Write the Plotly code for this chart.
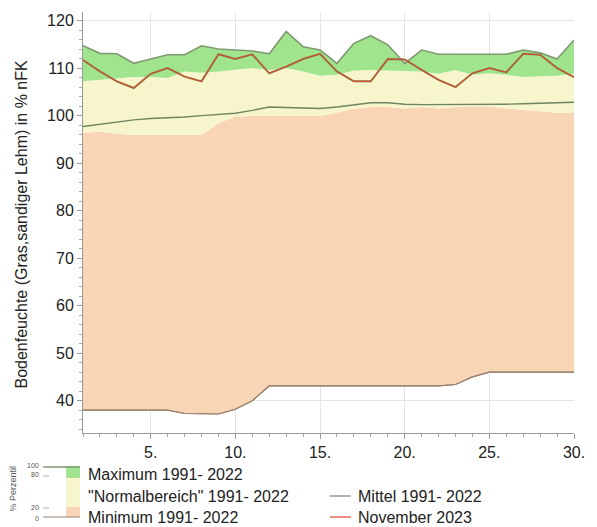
import plotly.graph_objects as go

days = list(range(1, 31))
maximum = [114.7, 113.1, 113.0, 111.0, 111.9, 112.8, 112.8, 114.7, 114.0, 113.8,
           113.6, 113.0, 117.7, 114.5, 113.8, 111.0, 115.2, 116.8, 114.9, 111.0,
           113.8, 112.9, 112.9, 112.9, 112.9, 112.9, 113.8, 113.2, 111.9, 115.9]
p80 = [107.2, 107.5, 107.9, 108.1, 108.1, 107.9, 109.3, 109.0, 109.3, 109.6,
       110.0, 109.6, 110.0, 109.3, 108.4, 108.6, 109.5, 109.6, 109.5, 109.3,
       109.3, 108.8, 109.6, 108.6, 108.9, 108.6, 108.1, 108.3, 108.4, 108.8]
p20 = [96.4, 96.6, 96.2, 95.9, 95.9, 95.9, 95.9, 95.9, 98.4, 99.8,
       99.9, 99.9, 99.9, 99.9, 99.9, 100.6, 101.5, 101.8, 101.8, 101.5,
       101.8, 101.5, 101.8, 101.9, 101.9, 101.5, 101.2, 100.8, 100.6, 100.6]
minimum = [38.0, 38.0, 38.0, 38.0, 38.0, 38.0, 37.3, 37.2, 37.2, 38.2,
           40.0, 43.1, 43.1, 43.1, 43.1, 43.1, 43.1, 43.1, 43.1, 43.1,
           43.1, 43.1, 43.4, 45.0, 46.0, 46.0, 46.0, 46.0, 46.0, 46.0]
mittel = [97.7, 98.2, 98.7, 99.1, 99.4, 99.5, 99.7, 100.0, 100.2, 100.5,
          101.1, 101.8, 101.7, 101.6, 101.5, 101.8, 102.3, 102.7, 102.7, 102.4,
          102.3, 102.3, 102.4, 102.4, 102.4, 102.4, 102.5, 102.6, 102.6, 102.8]
nov2023 = [111.7, 109.3, 107.2, 105.8, 108.8, 110.0, 108.2, 107.2, 112.9, 111.9,
           112.9, 108.9, 110.3, 111.9, 113.0, 109.3, 107.2, 107.2, 111.9, 111.8,
           109.6, 107.5, 106.0, 108.9, 110.0, 109.1, 113.0, 112.8, 110.0, 108.1]

x_tickvals = [5, 10, 15, 20, 25, 30]
x_ticktext = ["5.", "10.", "15.", "20.", "25.", "30."]
y_tickvals = [40, 50, 60, 70, 80, 90, 100, 110, 120]

GREEN = "#a0e58e"
YELLOW = "#f7f5cb"
PEACH = "#f8d6b5"
MAXLINE = "#7f9a70"
MINLINE = "#9c8470"
MITTEL = "#6f8560"
RED = "#e0402c"
FONT = "Liberation Sans, Arial, sans-serif"

fig = go.Figure()
fig.add_trace(go.Scatter(x=days, y=minimum, mode="lines", line=dict(color=MINLINE, width=1.2)))
fig.add_trace(go.Scatter(x=days, y=p20, mode="lines", line=dict(width=0), fill="tonexty", fillcolor=PEACH))
fig.add_trace(go.Scatter(x=days, y=p80, mode="lines", line=dict(width=0), fill="tonexty", fillcolor=YELLOW))
fig.add_trace(go.Scatter(x=days, y=maximum, mode="lines", line=dict(color=MAXLINE, width=1.6), fill="tonexty", fillcolor=GREEN))
fig.add_trace(go.Scatter(x=days, y=minimum, mode="lines", line=dict(color=MINLINE, width=1.2)))
fig.add_trace(go.Scatter(x=days, y=mittel, mode="lines", line=dict(color=MITTEL, width=1.4)))
fig.add_trace(go.Scatter(x=days, y=nov2023, mode="lines", line=dict(color="#8f7d48", width=2.0)))
fig.add_trace(go.Scatter(x=days, y=nov2023, mode="lines", line=dict(color=RED, width=0.9)))

L, R, T, B = 83, 578, 12, 433
W, H = R - L, B - T


def px(x):
    return (x - L) / W


def py(y):
    return (B - y) / H


shapes = []
annotations = []
# percentile colour bar
shapes.append(dict(type="rect", xref="paper", yref="paper", x0=px(66), x1=px(80), y0=py(478), y1=py(466),
                   fillcolor=GREEN, line=dict(width=0)))
shapes.append(dict(type="rect", xref="paper", yref="paper", x0=px(66), x1=px(80), y0=py(507), y1=py(478),
                   fillcolor=YELLOW, line=dict(width=0)))
shapes.append(dict(type="rect", xref="paper", yref="paper", x0=px(66), x1=px(80), y0=py(517), y1=py(507),
                   fillcolor=PEACH, line=dict(width=0)))
shapes.append(dict(type="line", xref="paper", yref="paper", x0=px(43), x1=px(80), y0=py(467), y1=py(467),
                   line=dict(color=MAXLINE, width=1.5)))
shapes.append(dict(type="line", xref="paper", yref="paper", x0=px(43), x1=px(80), y0=py(517), y1=py(517),
                   line=dict(color=MINLINE, width=1.2)))
shapes.append(dict(type="line", xref="paper", yref="paper", x0=px(43), x1=px(49), y0=py(476), y1=py(476),
                   line=dict(color="#b0b0b0", width=1)))
shapes.append(dict(type="line", xref="paper", yref="paper", x0=px(43), x1=px(49), y0=py(508), y1=py(508),
                   line=dict(color="#b0b0b0", width=1)))
# line samples
shapes.append(dict(type="line", xref="paper", yref="paper", x0=px(332), x1=px(353), y0=py(496), y1=py(496),
                   line=dict(color="#808080", width=1.2)))
shapes.append(dict(type="line", xref="paper", yref="paper", x0=px(332), x1=px(353), y0=py(517), y1=py(517),
                   line=dict(color=RED, width=1.2)))

small = dict(family=FONT, size=7, color="#555555")
for txt, yy in [("100", 465), ("80", 474), ("20", 508), ("0", 518)]:
    annotations.append(dict(text=txt, xref="paper", yref="paper", x=px(41), y=py(yy), xanchor="right",
                            yanchor="middle", showarrow=False, font=small))
annotations.append(dict(text="% Perzentil", xref="paper", yref="paper", x=px(12), y=py(489), textangle=-90,
                        xanchor="center", yanchor="middle", showarrow=False,
                        font=dict(family=FONT, size=9, color="#555555")))
big = dict(family=FONT, size=16, color="#222222")
for txt, xx, yy in [("Maximum 1991- 2022", 86, 475), ("\"Normalbereich\" 1991- 2022", 86, 496),
                    ("Minimum 1991- 2022", 86, 517), ("Mittel 1991- 2022", 358, 496),
                    ("November 2023", 358, 517)]:
    annotations.append(dict(text=txt, xref="paper", yref="paper", x=px(xx), y=py(yy), xanchor="left",
                            yanchor="middle", showarrow=False, font=big))
annotations.append(dict(text="Bodenfeuchte (Gras,sandiger Lehm) in % nFK", xref="paper", yref="paper",
                        x=px(20), y=py(224), textangle=-90, xanchor="center", yanchor="middle",
                        showarrow=False, font=big))

fig.update_layout(
    width=597, height=527,
    margin=dict(l=L, r=597 - R, t=T, b=527 - B, pad=0),
    paper_bgcolor="white", plot_bgcolor="white",
    showlegend=False,
    shapes=shapes, annotations=annotations,
    font=dict(family=FONT, size=16, color="#222222"),
)
fig.update_xaxes(range=[1, 30], tickvals=x_tickvals, ticktext=x_ticktext, showgrid=True,
                 gridcolor="#e4e4e4", gridwidth=1, showline=True, linecolor="#999999", linewidth=1,
                 ticks="outside", ticklen=5, tickcolor="#999999", zeroline=False,
                 tickfont=dict(family=FONT, size=16, color="#222222"),
                 minor=dict(dtick=1, tick0=0, ticks="outside", ticklen=3, tickcolor="#aaaaaa", showgrid=False))
fig.update_yaxes(range=[33.2, 121.8], tickvals=y_tickvals, showgrid=True, gridcolor="#e4e4e4", gridwidth=1,
                 showline=True, linecolor="#999999", linewidth=1, ticks="outside", ticklen=5,
                 tickcolor="#999999", zeroline=False,
                 tickfont=dict(family=FONT, size=16, color="#222222"),
                 minor=dict(dtick=2, tick0=0, ticks="outside", ticklen=3, tickcolor="#aaaaaa", showgrid=False))

fig.write_html("out.html")
